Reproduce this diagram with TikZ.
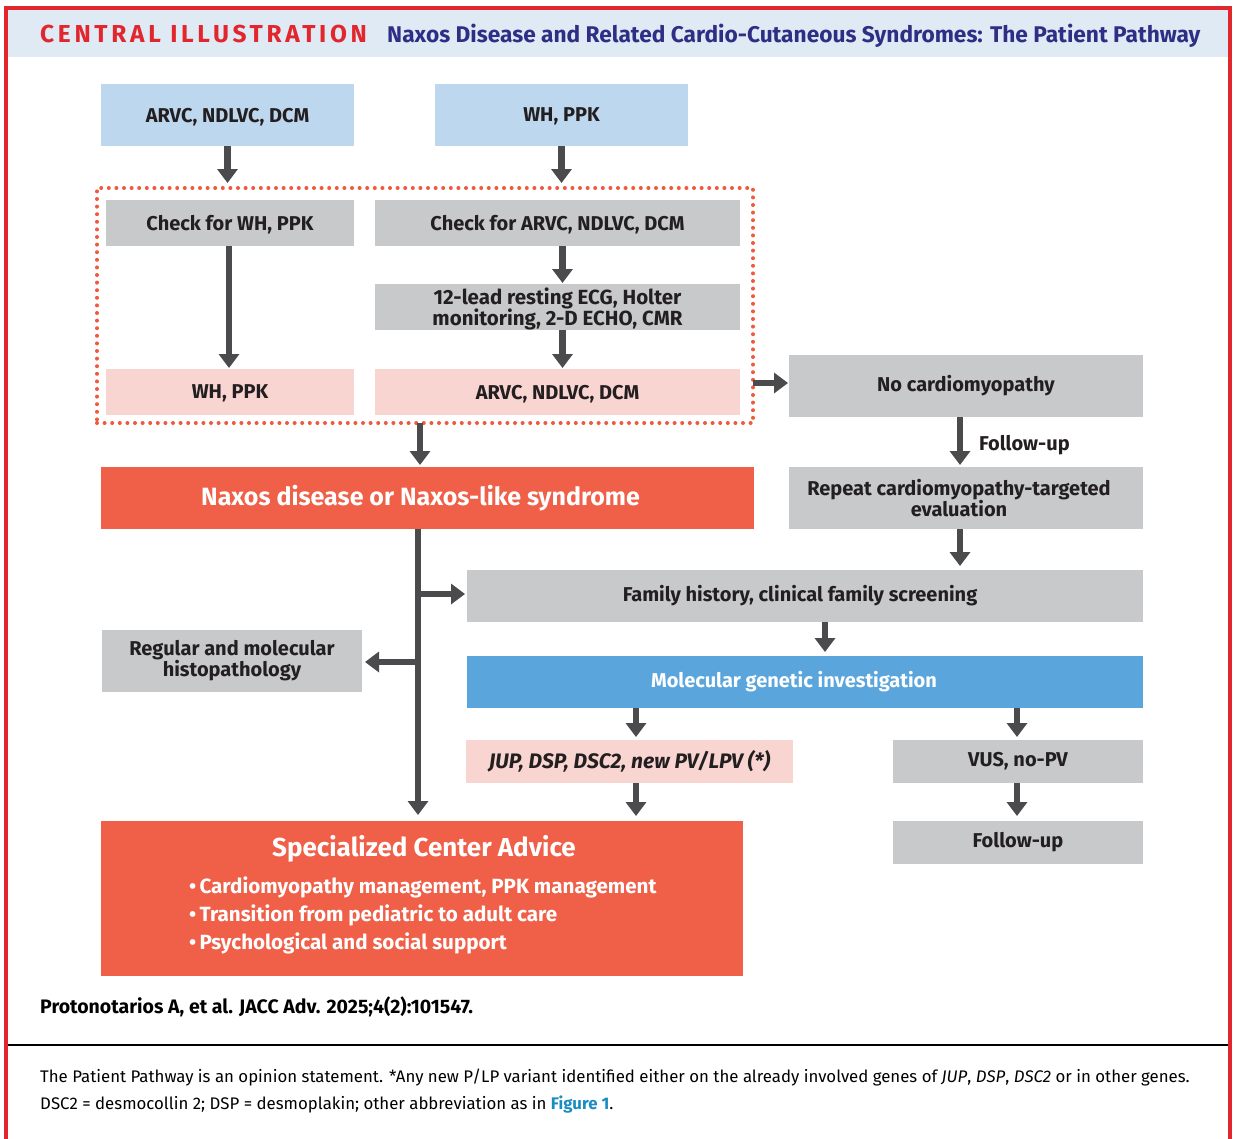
\documentclass[tikz,border=0pt]{standalone}
\usepackage{fontspec}
\setmainfont{Fira Sans}
\newfontfamily\cf{Fira Sans}
\newfontfamily\ttlfont[LetterSpace=15]{Fira Sans}
\usetikzlibrary{arrows.meta}
\definecolor{bord}{HTML}{E2262D}
\definecolor{band}{HTML}{DFEAF5}
\definecolor{navy}{HTML}{2E2F84}
\definecolor{lblue}{HTML}{BDD7EE}
\definecolor{gbox}{HTML}{C8C9CB}
\definecolor{pinkbox}{HTML}{F9D5D2}
\definecolor{redbox}{HTML}{F05F47}
\definecolor{mblue}{HTML}{5AA6DC}
\definecolor{arr}{HTML}{4B4B4D}
\definecolor{txt}{HTML}{231F20}
\definecolor{dotred}{HTML}{EE5A3C}
\definecolor{linkc}{HTML}{1A8CC0}
\newcommand\bx[7]{\node[#6, minimum width=\fpeval{#4-#2}pt, minimum height=\fpeval{#5-#3}pt] (#1) at (\fpeval{(#2+#4)/2},\fpeval{(#3+#5)/2}) {#7};}
\newcommand\lft[1]{\hspace*{#1pt}}
\tikzset{
  base/.style={inner sep=0pt, outer sep=0pt, align=center, text=txt, text depth=0pt, font=\cf\bfseries\fontsize{20}{22}\selectfont},
  natd/.style={text depth=},
  bluebox/.style={base, fill=lblue},
  greybox/.style={base, fill=gbox},
  pbox/.style={base, fill=pinkbox},
  rbox/.style={base, fill=redbox, text=white},
  mbbox/.style={base, fill=mblue, text=white},
  arrw/.style={draw=arr, line width=6.5pt, -{Triangle[width=20pt,length=14pt]}},
}
\begin{document}
\begin{tikzpicture}[x=1pt,y=-1pt]
\useasboundingbox (0,0) rectangle (1236,1138);
\fill[white] (0,0) rectangle (1236,1138);
% frame
\fill[band] (8,10) rectangle (1228,57);
\draw[bord, line width=4pt] (6,1140) -- (6,8) -- (1230,8) -- (1230,1140);
\node[anchor=base west, inner sep=0pt, text=bord, font=\ttlfont\bfseries\fontsize{24.5}{26}\selectfont] (ttl1) at (40,42) {CENTRAL ILLUSTRATION};
\node[anchor=base west, inner sep=0pt, text=navy, font=\cf\bfseries\fontsize{22.7}{24}\selectfont] (ttl2) at (387,42) {Naxos Disease and Related Cardio-Cutaneous Syndromes: The Patient Pathway};

% dotted group
\bx{grp}{97}{188}{753}{423}{draw=dotred, line width=4pt, dash pattern=on 0pt off 7.6pt, line cap=round, inner sep=0pt, outer sep=0pt}{}

\bx{a}{101}{84}{354}{146}{bluebox}{ARVC, NDLVC, DCM}
\bx{b}{435}{84}{688}{146}{bluebox}{WH, PPK}
\bx{chk1}{106}{200}{354}{246}{greybox}{Check for WH, PPK}
\bx{chk2}{375}{200}{740}{246}{greybox}{Check for ARVC, NDLVC, DCM}
\bx{ecg}{375}{284}{740}{330}{greybox, font=\cf\bfseries\fontsize{20.5}{22}\selectfont}{12-lead resting ECG, Holter\\[-1pt]monitoring, 2-D ECHO, CMR}
\bx{res1}{106}{369}{354}{415}{pbox}{WH, PPK}
\bx{res2}{375}{369}{740}{415}{pbox}{ARVC, NDLVC, DCM}
\bx{nocm}{789}{355}{1143}{417}{greybox, natd}{No cardiomyopathy}
\bx{rep}{789}{467}{1143}{529}{greybox}{Repeat cardiomyopathy-targeted\lft{14}\\[-1pt]evaluation\lft{14}}
\bx{nax}{101}{467}{754}{529}{rbox, natd, font=\cf\bfseries\fontsize{25}{28}\selectfont}{Naxos disease or Naxos-like syndrome\lft{14}}
\bx{fam}{467}{570}{1143}{622}{greybox, natd}{Family history, clinical family screening\lft{10}}
\bx{histo}{102}{630}{362}{692}{greybox, natd}{Regular and molecular\\[-1pt]histopathology}
\bx{mgi}{467}{656}{1143}{708}{mbbox, natd}{Molecular genetic investigation\lft{22}}
\bx{jup}{466}{740}{793}{783}{pbox, natd, font=\cf\bfseries\fontsize{21}{22}\selectfont}{\itshape JUP, DSP, DSC2, new PV/LPV (*)}
\bx{vus}{893}{740}{1143}{783}{greybox, natd}{VUS, no-PV}
\bx{fu}{893}{821}{1143}{864}{greybox, natd}{Follow-up}
\bx{sca}{101}{821}{743}{976}{rbox}{}
\node[base, text=white, font=\cf\bfseries\fontsize{26}{30}\selectfont] (scat) at (424,846) {Specialized Center Advice};
\node[base, text=white, anchor=north west, align=left, font=\cf\bfseries\fontsize{20.6}{28}\selectfont] (scab) at (189,877) {•\,Cardiomyopathy management, PPK management\\•\,Transition from pediatric to adult care\\•\,Psychological and social support};

% connectors
\draw[arrw, shorten >=5pt] (a.south) -- (a.south |- grp.north);
\draw[arrw, shorten >=5pt] (b.south) -- (b.south |- grp.north);
\draw[arrw, shorten >=1pt] ([xshift=-1pt]chk1.south) -- ([xshift=-1pt]chk1.south |- res1.north);
\draw[arrw, shorten >=1pt] ([xshift=5pt]chk2.south) -- ([xshift=5pt]chk2.south |- ecg.north);
\draw[arrw, shorten >=1pt] ([xshift=5pt]ecg.south) -- ([xshift=5pt]ecg.south |- res2.north);
\draw[arrw, shorten >=1pt] (grp.east |- 0,383) -- (nocm.west |- 0,383);
\draw[arrw, shorten >=2pt] ([xshift=-6pt]nocm.south) -- ([xshift=-6pt]nocm.south |- rep.north);
\node[base, anchor=west] (fulab) at (979,443) {Follow-up};
\draw[arrw, shorten >=4pt] ([xshift=-6pt]rep.south) -- ([xshift=-6pt]rep.south |- fam.north);
\draw[arrw, shorten >=2pt] (grp.south -| 420,0) -- (420,467);
\coordinate (trunk) at (418,529);
\draw[arrw, shorten >=6pt] (trunk) -- (trunk |- sca.north);
\draw[arrw, shorten >=2pt] (418,594) -- (fam.west |- 0,594);
\draw[arrw, shorten >=3pt] (418,662) -- (histo.east |- 0,662);
\draw[arrw, shorten >=4pt] (fam.south -| 825,0) -- (mgi.north -| 825,0);
\draw[arrw, shorten >=3pt] (mgi.south -| 636,0) -- (jup.north -| 636,0);
\draw[arrw, shorten >=3pt] (mgi.south -| 1017,0) -- (vus.north -| 1017,0);
\draw[arrw, shorten >=5pt] (jup.south -| 636,0) -- (sca.north -| 636,0);
\draw[arrw, shorten >=5pt] (vus.south -| 1017,0) -- (fu.north -| 1017,0);

% footer
\node[anchor=base west, inner sep=0pt, text=black, font=\cf\bfseries\fontsize{19.5}{20}\selectfont] (cite) at (40,1013) {Protonotarios A, et al. JACC Adv. 2025;4(2):101547.};
\draw[black, line width=1.5pt] (8,1045) -- (1228,1045);
\node[anchor=base west, inner sep=0pt, text=black, font=\cf\fontsize{16.8}{20}\selectfont] (foot1) at (40,1082) {The Patient Pathway is an opinion statement. *Any new P/LP variant identified either on the already involved genes of \textit{JUP}, \textit{DSP}, \textit{DSC2} or in other genes.};
\node[anchor=base west, inner sep=0pt, text=black, font=\cf\fontsize{16.8}{20}\selectfont] (foot2) at (40,1109) {DSC2 = desmocollin 2; DSP = desmoplakin; other abbreviation as in {\color{linkc}\bfseries Figure 1}.};
\end{tikzpicture}
\end{document}
